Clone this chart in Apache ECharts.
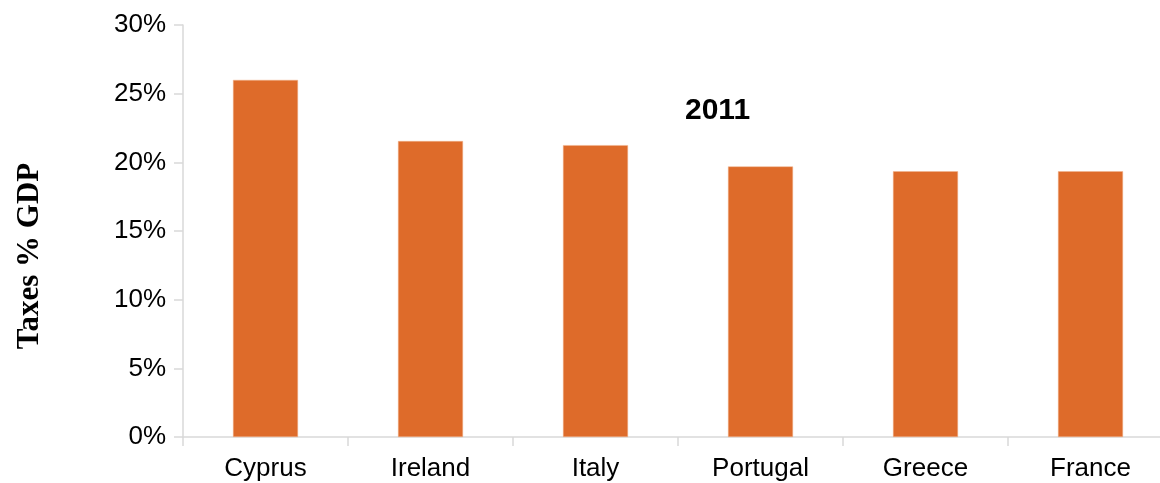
<!DOCTYPE html>
<html lang="en">
<head>
    <meta charset="UTF-8">
    <script src="https://cdn.jsdelivr.net/npm/echarts@6/dist/echarts.min.js"></script>
    <title>Taxes % GDP 2011</title>
    <style>
        html, body { margin: 0; padding: 0; background: #fff; }
    </style>
</head>
<body>
    <div id="main" style="width: 1160px;height:483px;"></div>

    <script type="text/javascript">
        // data
        var countries = ['Cyprus', 'Ireland', 'Italy', 'Portugal', 'Greece', 'France'];
        var taxes = [26.0, 21.55, 21.25, 19.7, 19.35, 19.35];
        var yearLabel = '2011';

        var axisGrey = '#d9d9d9';
        var myChart = echarts.init(document.getElementById('main'));

        myChart.setOption({
            animation: false,
            title: {
                text: yearLabel,
                left: 685,
                top: 96,
                padding: 0,
                textStyle: { fontFamily: 'Liberation Sans', fontWeight: 'bold', fontSize: 30, color: '#000' }
            },
            // plot runs a little past the right edge, as in the original
            grid: { left: 183, top: 25, width: 990, height: 412, outerBoundsMode: 'none', containLabel: false },
            xAxis: {
                type: 'category',
                data: countries,
                axisLine: { lineStyle: { color: axisGrey, width: 1.5 } },
                axisTick: { show: true, length: 9, lineStyle: { color: axisGrey, width: 1.5 } },
                axisLabel: { margin: 19, fontFamily: 'Liberation Sans', fontSize: 26, color: '#000' }
            },
            yAxis: {
                type: 'value',
                min: 0,
                max: 30,
                interval: 5,
                name: 'Taxes % GDP',
                nameLocation: 'middle',
                nameRotate: 90,
                nameGap: 138,
                // the title sits a bit below the middle of the axis
                nameTextStyle: {
                    fontFamily: 'Liberation Serif', fontWeight: 'bold', fontSize: 31, color: '#000',
                    padding: [0, 50, 0, 0]
                },
                axisLine: { show: true, lineStyle: { color: axisGrey, width: 1.5 } },
                axisTick: { show: true, length: 9, lineStyle: { color: axisGrey, width: 1.5 } },
                splitLine: { show: false },
                axisLabel: {
                    margin: 17,
                    fontFamily: 'Liberation Sans',
                    fontSize: 26,
                    color: '#000',
                    formatter: '{value}%'
                }
            },
            series: [{
                type: 'bar',
                data: taxes,
                barWidth: 65,
                itemStyle: { color: '#de6b2a', borderColor: '#f0b48f', borderWidth: 0.5 }
            }]
        });
    </script>
</body>
</html>
